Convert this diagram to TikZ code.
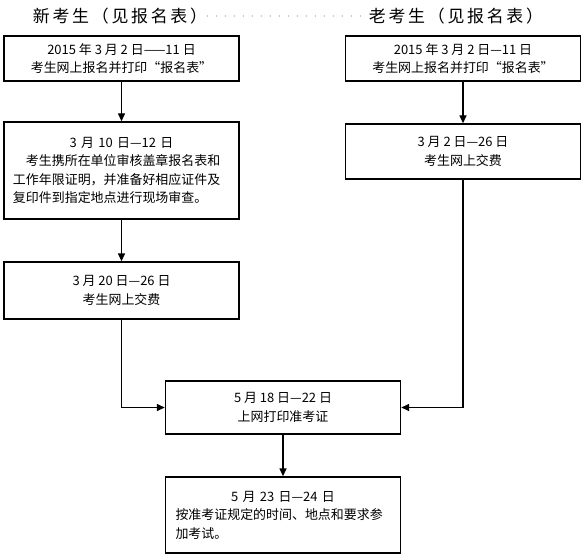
\documentclass[tikz,border=0pt]{standalone}
\usepackage{fontspec}
\setmainfont{Noto Sans CJK SC}
\newfontfamily\titlefont[LetterSpace=16]{Noto Sans CJK SC}
\usetikzlibrary{positioning,arrows.meta}
\tikzset{
  stagebox/.style={draw, line width=1.4bp, rectangle, inner sep=0pt,
    minimum width=235bp, font=\fontsize{13}{18.5}\selectfont},
  notebox/.style={stagebox, text width=217bp, inner xsep=9bp, align=left},
}
\newcommand\midline[1]{\hspace*{\fill}#1\hspace*{\fill}\mbox{}}
\begin{document}
\begin{tikzpicture}[x=1bp, y=-1bp, >={Triangle[length=8bp,width=7bp]},
   title/.style={font=\titlefont\fontsize{17}{19}\selectfont, inner sep=0pt},
   link/.style={->, line width=1.4bp}
   ]
   \useasboundingbox (0,0) rectangle (585,558);

   \path (120,16) node[title] (T1) {新考生（见报名表）}
   (456,16) node[title] (T2) {老考生（见报名表）};
   \draw[gray, line width=1.2bp, line cap=round, dash pattern=on 0pt off 9bp] (T1) -- (T2);

   % new candidates
   \path (121.5,58.5) node[stagebox, minimum height=45bp, align=center] (A)
     {2015 年 3 月 2 日——11 日\\考生网上报名并打印“报名表”}
   (121.5,170.5) node[notebox, minimum height=97bp] (C)
     {\midline{3 月 10 日—12 日}\\
      \hspace*{1em}考生携所在单位审核盖章报名表和\\
      工作年限证明，并准备好相应证件及\\
      复印件到指定地点进行现场审查。}
   (121.5,290.5) node[stagebox, minimum height=57bp, align=center] (D)
     {3 月 20 日—26 日\\考生网上交费};

   % old candidates
   \path (463,58.5) node[stagebox, minimum height=45bp, align=center] (B)
     {2015 年 3 月 2 日—11 日\\考生网上报名并打印“报名表”}
   (463,151.5) node[stagebox, minimum height=55bp, align=center] (E)
     {3 月 2 日—26 日\\考生网上交费};

   % both
   \path (283,407.5) node[stagebox, minimum height=53bp, align=center] (F)
     {5 月 18 日—22 日\\上网打印准考证}
   (283,515) node[notebox, inner xsep=10bp, text width=215bp, minimum height=76bp] (G)
     {\midline{5 月 23 日—24 日}\\
      按准考证规定的时间、地点和要求参\\
      加考试。};

   \draw[link] (A) -- (C);
   \draw[link] (C) -- (D);
   \draw[link] (B) -- (E);
   \draw[link] (D) |- (F);
   \draw[link] (E) |- (F);
   \draw[link] (F) -- (G);

\end{tikzpicture}
\end{document}
